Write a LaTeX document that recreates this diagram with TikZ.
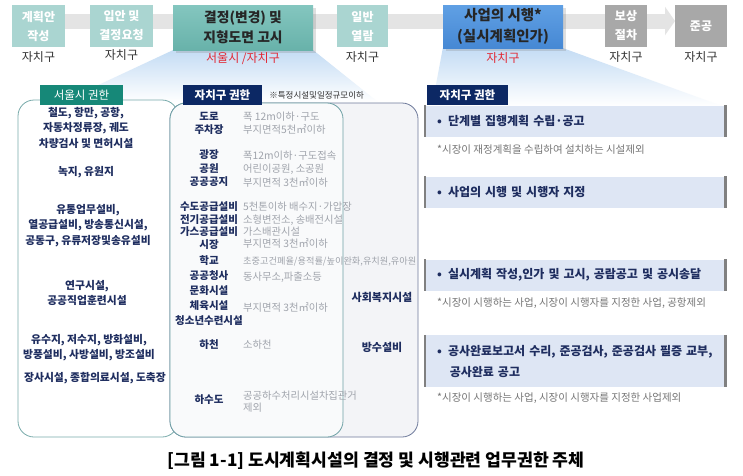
\documentclass[tikz,border=0pt]{standalone}
\usepackage{fontspec}
\setmainfont{Noto Sans CJK KR}
\usetikzlibrary{positioning}
\usetikzlibrary{backgrounds}
\usetikzlibrary{shadows}
\usetikzlibrary{arrows.meta}

\definecolor{tealbox}{RGB}{170,213,209}
\definecolor{tealtop}{RGB}{132,198,191}
\definecolor{tealbot}{RGB}{104,178,170}
\definecolor{bluetop}{RGB}{96,160,228}
\definecolor{bluebot}{RGB}{70,136,212}
\definecolor{graybox}{RGB}{168,168,168}
\definecolor{flowgray}{RGB}{228,228,228}
\definecolor{whogray}{RGB}{50,50,50}
\definecolor{labred}{RGB}{226,40,52}
\definecolor{funnel}{RGB}{196,220,244}
\definecolor{tabteal}{RGB}{22,136,120}
\definecolor{tabnavy}{RGB}{12,40,100}
\definecolor{txtnavy}{RGB}{30,45,95}
\definecolor{txtgray}{RGB}{160,164,172}
\definecolor{notegray}{RGB}{118,118,118}
\definecolor{barfill}{RGB}{222,230,244}
\definecolor{edgegray}{RGB}{128,128,128}
\definecolor{leftedge}{RGB}{120,170,170}
\definecolor{inneredge}{RGB}{110,160,165}
\definecolor{outeredge}{RGB}{110,122,155}
\definecolor{innerfill}{RGB}{249,250,251}
\definecolor{outerfill}{RGB}{243,244,247}

\newcommand{\fsz}[2]{\fontsize{#1}{#2}\selectfont}

\begin{document}
\begin{tikzpicture}[x=1pt, y=-1pt,
    stage/.style={minimum height=42pt, inner sep=0pt, align=center,
        text=white, fill=tealbox, font=\bfseries\fsz{12}{19}},
    grstage/.style={stage, fill=graybox},
    who/.style={inner sep=1pt, text=whogray, font=\fsz{12}{13}},
    redwho/.style={who, text=labred},
    tab/.style={minimum height=20pt, inner sep=0pt, text=white, font=\fsz{11.5}{12}},
    seoultxt/.style={align=center, inner sep=0pt, text=txtnavy, font=\bfseries\fsz{10.8}{15.5}},
    facil/.style={align=center, inner sep=0pt, text=txtnavy, font=\bfseries\fsz{10.5}{12.5}},
    cond/.style={anchor=west, align=left, inner sep=0pt, text=txtgray, font=\fsz{10.3}{12.5}},
    task/.style={anchor=west, minimum width=300pt, minimum height=31pt, text width=276pt,
        inner xsep=12pt, align=left, fill=barfill, text=txtnavy, font=\bfseries\fsz{12}{22}},
    note/.style={anchor=west, inner sep=0pt, text=notegray, font=\fsz{10.5}{12}},
    baredge/.style={draw=edgegray, line width=2.5pt},
    flow/.style={draw=flowgray, line width=15pt, -{Triangle[length=10pt, width=28pt]}}
    ]
    \useasboundingbox (0,0) rectangle (743,475);

    % process stages
    \node [stage, minimum width=53pt] (plan) at (38.5,26) {계획안\\작성};
    \node [stage, minimum width=63pt] (request) at (121.5,26) {입안 및\\결정요청};
    \node [stage, minimum width=140pt, minimum height=45pt, top color=tealtop, bottom color=tealbot,
        text=black!85, font=\bfseries\fsz{13.8}{20}, drop shadow={opacity=0.25}] (decide) at (243,27.5)
        {결정(변경) 및\\지형도면 고시};
    \node [stage, minimum width=51pt] (view) at (362.5,26) {일반\\열람};
    \node [stage, minimum width=120pt, minimum height=43pt, top color=bluetop, bottom color=bluebot,
        text=black!85, font=\bfseries\fsz{14.5}{21}, drop shadow={opacity=0.25}] (execute) at (503,26.5)
        {사업의 시행*\\(실시계획인가)};
    \node [grstage, minimum width=42pt] (comp) at (626,26) {보상\\절차};
    \node [grstage, minimum width=52pt] (done) at (701,26) {준공};

    \node [who] (plan-who) [below=3pt of plan] {자치구};
    \node [who] (request-who) [below=1pt of request] {자치구};
    \node [redwho] (decide-who) [below=1pt of decide] {서울시 /자치구};
    \node [who] (view-who) [below=3pt of view] {자치구};
    \node [redwho] (execute-who) [below=3pt of execute] {자치구};
    \node [who] (comp-who) [below=3pt of comp] {자치구};
    \node [who] (done-who) [below=3pt of done] {자치구};

    % authority boxes
    \draw [draw=leftedge, line width=0.8pt, rounded corners=16pt] (18,100) rectangle (178,437);
    \draw [draw=outeredge, fill=outerfill, line width=0.8pt, rounded corners=16pt] (170,103) rectangle (418,437);
    \draw [draw=inneredge, fill=innerfill, line width=0.8pt, rounded corners=16pt] (170,103) rectangle (343,437);

    \node [tab, fill=tabteal, minimum width=83pt] (seoultab) at (81.5,95) {서울시 권한};
    \node [tab, fill=tabnavy, minimum width=79pt, font=\bfseries\fsz{11.5}{12}] (gutab) at (222.5,95) {자치구 권한};
    \node [inner sep=0pt, text=whogray, font=\fsz{8.5}{10}] (gunote) [right=7pt of gutab] {※특정시설및일정규모이하};
    \node [tab, fill=tabnavy, minimum width=81pt, font=\bfseries\fsz{11.5}{12}] (gutab2) at (467.5,95) {자치구 권한};

    % seoul
    \node [seoultxt] (s1) at (86,127.5) {철도, 항만, 공항,\\자동차정류장, 궤도\\차량검사 및 면허시설};
    \node [seoultxt] (s2) at (86,172) {녹지, 유원지};
    \node [seoultxt] (s3) at (88,225.5) {유통업무설비,\\열공급설비, 방송통신시설,\\공동구, 유류저장및송유설비};
    \node [seoultxt] (s4) at (87,293) {연구시설,\\공공직업훈련시설};
    \node [seoultxt] (s5) at (89,347.5) {유수지, 저수지, 방화설비,\\방풍설비, 사방설비, 방조설비};
    \node [seoultxt] (s6) at (95,378) {장사시설, 종합의료시설, 도축장};

    % gu
    \node [facil] (g1) at (209,123.5) {도로\\주차장};
    \node [facil, font=\bfseries\fsz{10.5}{13.5}] (g2) at (209,168.5) {광장\\공원\\공공공지};
    \node [facil] (g3) at (209,225.5) {수도공급설비\\전기공급설비\\가스공급설비\\시장};
    \node [facil, font=\bfseries\fsz{10.5}{14.8}] (g4) at (209,290.5) {학교\\공공청사\\문화시설\\체육시설\\청소년수련시설};
    \node [facil] (g5) at (209,345) {하천};
    \node [facil] (g6) at (209,400) {하수도};

    \node [cond, font=\fsz{10.3}{13}] (c1) at (243,123.5) {폭 12m이하·구도\\부지면적5천㎡이하};
    \node [cond, font=\fsz{10.3}{13.3}] (c2) at (243,169) {폭12m이하·구도접속\\어린이공원, 소공원\\부지면적 3천㎡이하};
    \node [cond, font=\fsz{10.3}{12.3}] (c3) at (243,225.5) {5천톤이하 배수지·가압장\\소형변전소, 송배전시설\\가스배관시설\\부지면적 3천㎡이하};
    \node [cond, font=\fsz{9.2}{16}] (c4) at (243,270) {초중고건폐율/용적률/높이완화,유치원,유아원\\{\fsz{10.3}{12}동사무소,파출소등}};
    \node [cond] (c5) at (243,307) {부지면적 3천㎡이하};
    \node [cond] (c6) at (243,345) {소하천};
    \node [cond] (c7) at (243,401.5) {공공하수처리시설차집관거\\제외};

    \node [facil, font=\bfseries\fsz{11}{13}] (w1) at (382,297) {사회복지시설};
    \node [facil, font=\bfseries\fsz{11}{13}] (w2) at (382,347) {방수설비};

    % execution tasks
    \node [task] (t1) at (425,121) {•\enspace 단계별 집행계획 수립·공고};
    \node [task] (t2) at (425,192) {•\enspace 사업의 시행 및 시행자 지정};
    \node [task] (t3) at (425,275) {•\enspace 실시계획 작성,인가 및 고시, 공람공고 및 공시송달};
    \node [task, minimum height=52pt, font=\bfseries\fsz{12}{21}] (t4) at (425,361)
        {•\enspace 공사완료보고서 수리, 준공검사, 준공검사 필증 교부,\\\hspace*{1.05em}공사완료 공고};
    \foreach \t in {t1,t2,t3,t4} {
        \draw [baredge] (\t.north west) -- (\t.south west);
        \draw [baredge] (\t.north east) -- (\t.south east);
    }
    \node [note] (n1) at (437,150) {*시장이 재정계획을 수립하여 설치하는 시설제외};
    \node [note] (n3) at (437,303) {*시장이 시행하는 사업, 시장이 시행자를 지정한 사업, 공항제외};
    \node [note] (n4) at (437,398) {*시장이 시행하는 사업, 시장이 시행자를 지정한 사업제외};

    \node [font=\bfseries\fsz{17.2}{19}] (caption) at (376,461) {[그림 1-1] 도시계획시설의 결정 및 시행관련 업무권한 주체};

    \begin{scope}[on background layer]
        \fill [white] (0,0) rectangle (743,475);
        \coordinate (flowstart) at (12,21);
        \coordinate (flowend) at (675,21);
        \draw [flow] (flowstart) -- (flowend);
        \shade [top color=funnel, bottom color=white] (decide.south west) -- (decide.south east) -- (378,102) -- (62,102) -- cycle;
        \shade [top color=funnel, bottom color=white] (execute.south west) -- (execute.south east) -- (722,106) -- (432,106) -- cycle;
    \end{scope}
\end{tikzpicture}
\end{document}
